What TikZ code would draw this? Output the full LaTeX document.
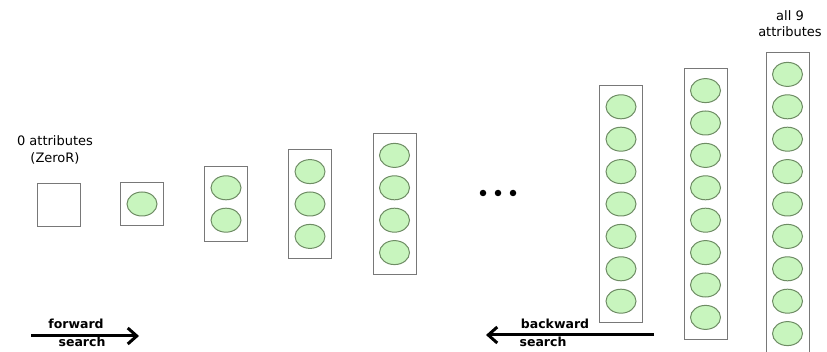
\documentclass[tikz,border=0pt]{standalone}
\usepackage{fontspec}
\setmainfont{DejaVu Sans}
\usetikzlibrary{arrows.meta,shapes.geometric}
\definecolor{boxgray}{RGB}{120,120,120}
\definecolor{ellfill}{RGB}{200,245,190}
\definecolor{elldraw}{RGB}{110,140,100}
\tikzset{
  attrbox/.style={draw=boxgray, line width=0.9pt, minimum width=43pt, inner sep=0pt},
  attr/.style={ellipse, draw=elldraw, fill=ellfill, line width=1pt, minimum width=30pt, minimum height=24pt, inner sep=0pt},
  lbl/.style={font=\fontsize{13}{16}\selectfont, inner sep=0pt, anchor=base},
  arrlbl/.style={font=\bfseries\fontsize{12.5}{15}\selectfont, inner sep=0pt, anchor=base},
  bigarrow/.style={line width=3pt, -{Straight Barb[length=9pt,width=16pt,line width=3pt]}},
  dotc/.style={circle, fill=black, minimum size=6.5pt, inner sep=0pt}
}
\begin{document}
\begin{tikzpicture}[x=1pt,y=-1pt]
\useasboundingbox (0,0) rectangle (827,352);
% empty box
\node[attrbox, minimum height=43pt] (b0) at (59,204.5) {};
% boxes with ellipses
\foreach \i/\n/\cx in {1/1/142, 2/2/226, 3/3/310, 4/4/394.5, 5/7/621, 6/8/705.5, 7/9/787.5}{
  \node[attrbox, minimum height={32.4*\n+11}] (b\i) at (\cx,204) {};
  \foreach \k in {1,...,\n}{
    \node[attr] (e\i-\k) at (\cx,{204+(\k-(\n+1)/2)*32.4}) {};
  }
}
% labels
\node[lbl] (t0a) at (55,146) {0 attributes};
\node[lbl] (t0b) at (55,163) {(ZeroR)};
\node[lbl] (t9a) at (790,21) {all 9};
\node[lbl] (t9b) at (790,37) {attributes};
% dots
\node[dotc] (d1) at (483,193) {};
\node[dotc] (d2) at (498,193) {};
\node[dotc] (d3) at (513,193) {};
% forward arrow
\coordinate (fs) at (31,336);
\coordinate (fe) at (139,336);
\draw[bigarrow] (fs) -- (fe);
\node[arrlbl] (fw) at (76,329) {forward};
\node[arrlbl] (fws) at (82,347) {search};
% backward arrow
\coordinate (bs) at (654,335);
\coordinate (be) at (486,335);
\draw[bigarrow] (bs) -- (be);
\node[arrlbl] (bw) at (555,329) {backward};
\node[arrlbl] (bws) at (543,347) {search};
\end{tikzpicture}
\end{document}
